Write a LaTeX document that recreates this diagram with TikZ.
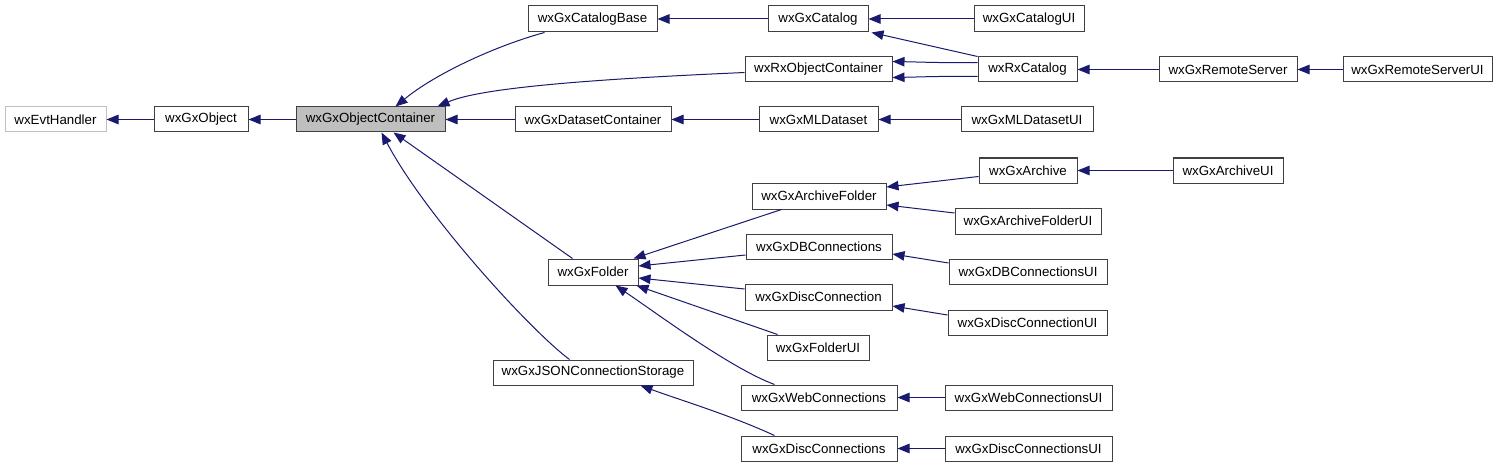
\documentclass[tikz,border=0pt]{standalone}
\usepackage{fontspec}
\setmainfont{Liberation Sans}
\usetikzlibrary{arrows.meta}
\definecolor{edgecol}{HTML}{191970}
\definecolor{boxline}{HTML}{404040}
\definecolor{greyline}{HTML}{BFBFBF}
\definecolor{greyfill}{HTML}{BFBFBF}
\newcommand{\bx}[7][]{%
  \node[box,#1,minimum width={(#4-#2)*1pt},minimum height={(#5-#3)*1pt}] (#6) at ({(#2+#4)/2},{(#3+#5)/2}) {#7};}
\begin{document}
\begin{tikzpicture}[x=1pt,y=-1pt,
  box/.style={draw=boxline,line width=1pt,fill=white,inner sep=0pt,font=\fontsize{13.3}{16}\selectfont},
  inh/.style={draw=edgecol,line width=1pt,-{Triangle[length=12pt,width=9.5pt]},edgecol}]
\useasboundingbox (0,0) rectangle (1499,468);
% nodes
\bx[draw=greyline]{5}{107}{106}{132}{evt}{wxEvtHandler}
\bx{154}{107}{248}{132}{obj}{wxGxObject}
\bx[fill=greyfill]{296}{107}{445}{132}{cont}{wxGxObjectContainer}
\bx{528}{6}{657}{32}{catbase}{wxGxCatalogBase}
\bx{768}{6}{868}{32}{cat}{wxGxCatalog}
\bx{974}{6}{1084}{32}{catui}{wxGxCatalogUI}
\bx{745}{57}{892}{82}{rxobj}{wxRxObjectContainer}
\bx{978}{57}{1077}{82}{rxcat}{wxRxCatalog}
\bx{1159}{57}{1297}{82}{rsrv}{wxGxRemoteServer}
\bx{1343}{57}{1492}{82}{rsrvui}{wxGxRemoteServerUI}
\bx{515}{107}{671}{132}{dsc}{wxGxDatasetContainer}
\bx{759}{107}{878}{132}{ml}{wxGxMLDataset}
\bx{961}{107}{1093}{132}{mlui}{wxGxMLDatasetUI}
\bx{979}{158}{1077}{183}{arch}{wxGxArchive}
\bx{1173}{158}{1283}{183}{archui}{wxGxArchiveUI}
\bx{752}{183}{886}{209}{archf}{wxGxArchiveFolder}
\bx{955}{208}{1101}{234}{archfui}{wxGxArchiveFolderUI}
\bx{746}{234}{892}{259}{dbc}{wxGxDBConnections}
\bx{949}{259}{1107}{284}{dbcui}{wxGxDBConnectionsUI}
\bx{548}{259}{638}{285}{fold}{wxGxFolder}
\bx{745}{284}{892}{310}{dconn}{wxGxDiscConnection}
\bx{948}{310}{1107}{335}{dconnui}{wxGxDiscConnectionUI}
\bx{767}{335}{869}{360}{foldui}{wxGxFolderUI}
\bx{493}{360}{693}{385}{json}{wxGxJSONConnectionStorage}
\bx{741}{385}{897}{410}{web}{wxGxWebConnections}
\bx{945}{385}{1112}{410}{webui}{wxGxWebConnectionsUI}
\bx{741}{436}{897}{461}{dconns}{wxGxDiscConnections}
\bx{945}{436}{1112}{461}{dconnsui}{wxGxDiscConnectionsUI}
% edges
\draw[inh] (obj.west) -- (evt.east);
\draw[inh] (cont.west) -- (obj.east);
\draw[inh] (dsc.west) -- (cont.east);
\draw[inh] ([xshift=17pt]catbase.south west) .. controls (495,46) and (435,74) .. ([xshift=100pt]cont.north west);
\draw[inh] ([yshift=-3pt]rxobj.west) .. controls (620,78) and (485,86) .. ([xshift=-8pt]cont.north east);
\draw[inh] ([xshift=25pt]fold.north west) -- ([xshift=98pt]cont.south west);
\draw[inh] ([xshift=77pt]json.north west) .. controls (530,330) and (425,215) .. ([xshift=86pt]cont.south west);
\draw[inh] (cat.west) -- (catbase.east);
\draw[inh] (catui.west) -- (cat.east);
\draw[inh] (rxcat.north west) -- ([xshift=3pt]cat.south east);
\draw[inh] ([yshift=7pt]rxcat.west) .. controls (940,63) and (920,62) .. ([yshift=8pt]rxobj.east);
\draw[inh] ([yshift=-7pt]rxcat.west) .. controls (940,76) and (920,77) .. ([yshift=-8pt]rxobj.east);
\draw[inh] (rsrv.west) -- (rxcat.east);
\draw[inh] (rsrvui.west) -- (rsrv.east);
\draw[inh] (ml.west) -- (dsc.east);
\draw[inh] (mlui.west) -- (ml.east);
\draw[inh] ([yshift=-6pt]arch.west) -- ([yshift=9pt]archf.east);
\draw[inh] (archui.west) -- (arch.east);
\draw[inh] ([yshift=8pt]archfui.west) -- ([yshift=-9pt]archf.east);
\draw[inh] ([xshift=30pt]archf.south west) -- ([xshift=-5pt]fold.north east);
\draw[inh] ([yshift=-8.5pt]dbc.west) -- ([yshift=6pt]fold.east);
\draw[inh] ([yshift=8pt]dconn.west) -- ([yshift=-6pt]fold.east);
\draw[inh] ([xshift=11pt]foldui.north west) -- ([xshift=-2pt]fold.south east);
\draw[inh] ([xshift=34pt]web.north west) .. controls (730,368) and (655,312) .. ([xshift=-23pt]fold.south east);
\draw[inh] ([yshift=8.5pt]dbcui.west) -- ([yshift=-7.5pt]dbc.east);
\draw[inh] ([yshift=7.5pt]dconnui.west) -- ([yshift=-9pt]dconn.east);
\draw[inh] ([xshift=34pt]dconns.north west) .. controls (730,415) and (680,400) .. ([xshift=-53pt]json.south east);
\draw[inh] (webui.west) -- (web.east);
\draw[inh] (dconnsui.west) -- (dconns.east);
\end{tikzpicture}
\end{document}
